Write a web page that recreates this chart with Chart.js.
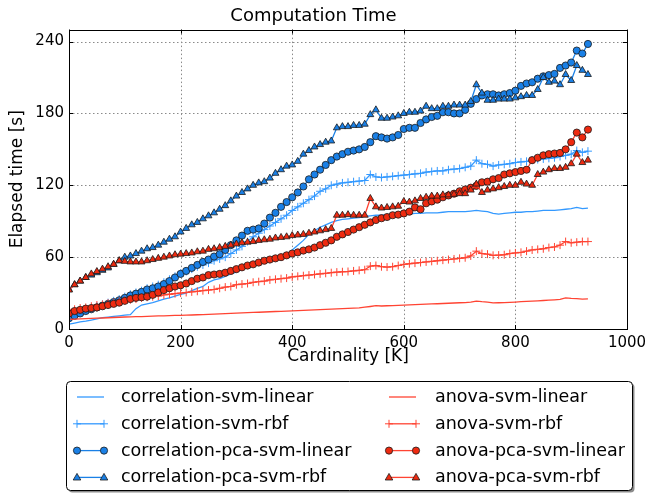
<!DOCTYPE html>
<html>
<head>
<meta charset="utf-8">
<script src="https://cdn.jsdelivr.net/npm/chart.js@4.4.1/dist/chart.umd.min.js"></script>
<style>
html, body { margin: 0; padding: 0; background: #fff; }
canvas { display: block; }
</style>
</head>
<body>
<canvas id="timeChart" width="646" height="493"></canvas>
<script>
// cardinality [K]
var cardinality = [
  0, 10, 20, 30, 40, 50, 60, 70, 80, 90,
  100, 110, 120, 130, 140, 150, 160, 170, 180, 190,
  200, 210, 220, 230, 240, 250, 260, 270, 280, 290,
  300, 310, 320, 330, 340, 350, 360, 370, 380, 390,
  400, 410, 420, 430, 440, 450, 460, 470, 480, 490,
  500, 510, 520, 530, 540, 550, 560, 570, 580, 590,
  600, 610, 620, 630, 640, 650, 660, 670, 680, 690,
  700, 710, 720, 730, 740, 750, 760, 770, 780, 790,
  800, 810, 820, 830, 840, 850, 860, 870, 880, 890,
  900, 910, 920, 930
];

// elapsed time [s]
var corrSvmLinear = [
  4, 5, 6, 6.5, 7.5, 8.5, 9.5, 10, 10.5, 11,
  11.5, 12, 17, 20, 21, 22, 23.5, 25, 26, 27.5,
  29, 30, 32, 34, 35.5, 39, 41, 42, 44, 46,
  47.5, 50, 52, 54, 55.5, 57.5, 58, 58, 59, 62,
  66, 70, 74, 79, 82, 85, 87, 89, 90.5, 91.5,
  92, 92.5, 93, 94, 94.5, 95, 95, 95.5, 95.5, 96,
  96, 96, 96.5, 96.5, 97, 97, 97, 97.5, 98, 98,
  98, 98, 98.5, 99, 98.5, 98, 96.5, 96, 96.5, 97,
  97.5, 97.5, 98, 98, 98.5, 99, 99, 99, 99.5, 100,
  100.5, 101.5, 100.5, 101
];
var corrSvmRbf = [
  10, 12, 14, 16, 17.5, 19, 20.5, 22, 23.5, 25,
  27, 29, 30.5, 32, 34, 35.5, 37, 39, 41.5, 44,
  46.5, 48, 50, 52, 53.5, 55, 57, 58.5, 60, 63,
  66, 69, 73, 77, 80, 83, 86, 89, 92, 95,
  99, 102, 105, 108, 111, 115, 117, 120, 121, 122,
  122.5, 123, 123.5, 124, 129, 127, 126.5, 127, 127.5, 128,
  128.5, 129, 129.5, 130, 131, 131.5, 132, 132, 133, 133.5,
  134, 135, 136, 141, 138, 137.5, 136, 137, 137.5, 138,
  139, 139.5, 140, 141, 141.5, 142, 142.5, 143, 144, 145,
  146, 149, 147.5, 148.5
];
var corrPcaSvmLinear = [
  9, 11, 13, 15, 16.5, 18, 19.5, 21, 22.5, 24,
  26, 28, 29.5, 31, 33, 34, 35.5, 37.5, 40, 43,
  46, 48.5, 51, 53.5, 56, 58, 60.5, 62.5, 66, 70,
  74, 78, 82, 83, 84, 88, 93, 97, 102, 106,
  110, 114, 119, 125, 129, 133, 137, 141, 144, 146,
  148, 149, 150, 152, 156, 161, 160, 159, 160, 162,
  167, 168, 168, 172, 175, 177, 178, 181, 181, 180,
  180, 183, 188, 192, 195, 196, 196, 195, 196, 197,
  199, 203, 205, 206, 209, 211, 212, 213, 218, 220,
  222.5, 232.5, 230, 238
];
var corrPcaSvmRbf = [
  33, 37, 40, 43, 45, 47, 49, 51, 54, 57,
  60, 61, 63, 65, 67, 68, 70, 72.5, 75, 77,
  81, 84, 87, 89, 92, 94.5, 97, 100, 103, 107,
  111, 114, 117, 120, 122, 123, 126, 130, 133, 136,
  137, 140, 146, 149, 152, 154, 156, 157, 168, 169,
  169, 170, 170, 171, 179, 183, 176, 176, 177, 178,
  180, 181, 181, 182, 186, 184, 184, 186, 186, 187,
  187, 187, 190, 204, 197, 191, 191, 192, 192, 192,
  193, 194, 195, 195, 200, 210, 206, 207, 204, 212.5,
  207.5, 220, 216, 212.5
];
var anovaSvmLinear = [
  8, 8.2, 8.4, 8.6, 8.8, 9, 9.2, 9.4, 9.6, 9.8,
  10, 10.1, 10.3, 10.4, 10.6, 10.7, 10.9, 11, 11.2, 11.3,
  11.4, 11.6, 11.7, 11.9, 12, 12.2, 12.4, 12.6, 12.8, 13,
  13.2, 13.4, 13.6, 13.8, 14, 14.2, 14.4, 14.6, 14.8, 15,
  15.2, 15.4, 15.6, 15.8, 16, 16.2, 16.4, 16.6, 16.8, 17,
  17.2, 17.4, 17.6, 18.2, 18.8, 19.5, 19.2, 19.4, 19.6, 19.8,
  20, 20.2, 20.4, 20.6, 20.8, 21, 21.1, 21.3, 21.5, 21.7,
  21.9, 22.1, 22.4, 23.3, 22.8, 22.5, 21.8, 21.9, 22.1, 22.3,
  22.5, 22.8, 23, 23.3, 23.5, 23.8, 24.1, 24.4, 24.8, 26,
  25.5, 25.3, 25, 25.2
];
var anovaSvmRbf = [
  15.5, 16.5, 17.5, 18, 19, 20, 20.5, 21.5, 22, 23,
  24, 24.5, 25, 26, 26.5, 27, 27.5, 28.5, 29, 29.5,
  30, 30.5, 31, 31.5, 32, 32.5, 33, 34, 35, 35.5,
  37, 37.5, 38, 39, 39.5, 40, 41, 41.5, 42, 42.5,
  43.5, 44, 44.5, 45, 45.5, 46, 46.5, 47, 47.5, 47.8,
  48, 48.5, 49, 49.5, 52.5, 53, 52, 51.7, 52, 53,
  54, 54.5, 55, 55.5, 56, 56.5, 57, 57.5, 58, 58.5,
  59, 59.5, 61, 65, 63, 62.5, 61.5, 61.7, 62, 63,
  63.5, 64, 65, 66, 66.5, 67, 68, 68.5, 70, 73,
  72, 72.5, 73, 73
];
var anovaPcaSvmLinear = [
  13, 15, 16, 17, 17.5, 18, 19, 20, 21, 22,
  23.5, 25, 26, 26.5, 27, 28.5, 30.5, 32.5, 34, 35.5,
  36.5, 38, 40, 42, 43, 45, 45.5, 46, 47, 48.5,
  50, 51.5, 53, 54, 55.5, 57, 58, 59, 60, 61.5,
  63, 64, 65.5, 66.5, 68, 70, 72, 74, 77, 79,
  81, 83, 85, 87, 89, 91, 92.5, 93.5, 95, 95.5,
  96.5, 98, 101.5, 100, 105, 106.5, 108, 110, 111.5, 113,
  115, 116.5, 118, 119.5, 122.5, 123, 125, 126, 129, 130,
  131, 132, 133, 141, 143, 145, 146, 146.5, 147, 150,
  156, 164, 160, 166.5
];
var anovaPcaSvmRbf = [
  32.5, 37, 40, 43, 46, 48, 50, 52, 54, 57,
  56.5, 56, 56, 56, 57, 58, 59, 60, 61, 62,
  62.5, 63, 63.5, 64.5, 65, 66.5, 67, 68, 69, 70,
  71, 72, 72.5, 73, 74, 74.5, 75, 76, 76.5, 77,
  78, 78.5, 79, 80, 81, 82, 83, 84, 95, 95,
  95.5, 95, 95, 95, 109, 102, 101, 101.5, 102, 102.5,
  106.5, 106, 107, 109, 110, 111, 111, 112, 112, 112.5,
  113, 113, 116, 121, 114, 116, 117, 118, 119, 120,
  120, 122.5, 121, 120, 129, 131, 133, 134, 134, 135,
  138, 146, 139, 141
];

var seriesNames = [
  'correlation-svm-linear', 'correlation-svm-rbf',
  'correlation-pca-svm-linear', 'correlation-pca-svm-rbf',
  'anova-svm-linear', 'anova-svm-rbf',
  'anova-pca-svm-linear', 'anova-pca-svm-rbf'
];
var xTicks = [0, 200, 400, 600, 800, 1000];
var yTicks = [0, 60, 120, 180, 240];

var lightBlue = '#3399ff';
var blue = '#1a80e6';
var red = '#ff4433';
var darkRed = '#ee2a10';
var edge = '#1a1a1a';
var font = 'DejaVu Sans';

function pts(vals) {
  return vals.map(function (v, i) { return { x: cardinality[i], y: v }; });
}

function makeSet(i, vals, color, marker, fill) {
  var ds = {
    label: seriesNames[i],
    data: pts(vals),
    borderColor: color,
    borderWidth: 1.3,
    pointRadius: 0,
    tension: 0,
    clip: 0,
    order: 10 - i,
    marker: marker
  };
  if (marker === 'cross') {
    ds.pointStyle = 'cross';
    ds.pointRadius = 4;
    ds.pointBorderColor = color;
    ds.pointBorderWidth = 1;
  } else if (marker === 'circle' || marker === 'triangle') {
    ds.pointStyle = marker;
    ds.pointRadius = marker === 'circle' ? 3.6 : 4;
    ds.pointBackgroundColor = fill;
    ds.pointBorderColor = edge;
    ds.pointBorderWidth = 0.8;
  }
  return ds;
}

var datasets = [
  makeSet(0, corrSvmLinear, lightBlue, 'none'),
  makeSet(1, corrSvmRbf, lightBlue, 'cross'),
  makeSet(2, corrPcaSvmLinear, blue, 'circle', blue),
  makeSet(3, corrPcaSvmRbf, blue, 'triangle', blue),
  makeSet(4, anovaSvmLinear, red, 'none'),
  makeSet(5, anovaSvmRbf, red, 'cross'),
  makeSet(6, anovaPcaSvmLinear, red, 'circle', darkRed),
  makeSet(7, anovaPcaSvmRbf, red, 'triangle', darkRed)
];

// dotted grid under the lines
var gridPlugin = {
  id: 'dotGrid',
  beforeDatasetsDraw: function (chart) {
    var a = chart.chartArea, c = chart.ctx;
    c.save();
    c.strokeStyle = '#8a8a8a';
    c.lineWidth = 1;
    c.setLineDash([1.5, 2.5]);
    c.beginPath();
    xTicks.forEach(function (v) {
      var x = Math.round(chart.scales.x.getPixelForValue(v)) + 0.5;
      c.moveTo(x, a.top); c.lineTo(x, a.bottom);
    });
    yTicks.forEach(function (v) {
      var y = Math.round(chart.scales.y.getPixelForValue(v)) + 0.5;
      c.moveTo(a.left, y); c.lineTo(a.right, y);
    });
    c.stroke();
    c.restore();
  }
};

// black frame with inward tick marks
var framePlugin = {
  id: 'frame',
  afterDatasetsDraw: function (chart) {
    var a = chart.chartArea, c = chart.ctx;
    c.save();
    c.strokeStyle = '#000';
    c.lineWidth = 1;
    c.strokeRect(Math.round(a.left) + 0.5, Math.round(a.top) + 0.5,
      Math.round(a.right - a.left), Math.round(a.bottom - a.top));
    c.beginPath();
    xTicks.forEach(function (v) {
      var x = Math.round(chart.scales.x.getPixelForValue(v)) + 0.5;
      c.moveTo(x, a.bottom); c.lineTo(x, a.bottom - 4);
      c.moveTo(x, a.top); c.lineTo(x, a.top + 4);
    });
    yTicks.forEach(function (v) {
      var y = Math.round(chart.scales.y.getPixelForValue(v)) + 0.5;
      c.moveTo(a.left, y); c.lineTo(a.left + 4, y);
      c.moveTo(a.right, y); c.lineTo(a.right - 4, y);
    });
    c.stroke();
    c.restore();
  }
};

function drawMarker(c, ds, x, y) {
  var m = ds.marker;
  if (m === 'cross') {
    c.strokeStyle = ds.pointBorderColor;
    c.lineWidth = 1;
    c.beginPath();
    c.moveTo(x - 4, y); c.lineTo(x + 4, y);
    c.moveTo(x, y - 4); c.lineTo(x, y + 4);
    c.stroke();
  } else if (m === 'circle') {
    c.fillStyle = ds.pointBackgroundColor;
    c.strokeStyle = edge;
    c.lineWidth = 0.8;
    c.beginPath();
    c.arc(x, y, 3.6, 0, Math.PI * 2);
    c.fill(); c.stroke();
  } else if (m === 'triangle') {
    c.fillStyle = ds.pointBackgroundColor;
    c.strokeStyle = edge;
    c.lineWidth = 0.8;
    c.beginPath();
    c.moveTo(x, y - 4); c.lineTo(x + 3.8, y + 2.6); c.lineTo(x - 3.8, y + 2.6);
    c.closePath();
    c.fill(); c.stroke();
  }
}

// two-column legend in a framed box under the plot
var legendPlugin = {
  id: 'boxLegend',
  afterDraw: function (chart) {
    var c = chart.ctx;
    var bx = 66, by = 381, bw = 566, bh = 109, r = 4;
    c.save();
    function rr(x, y) {
      c.beginPath();
      c.moveTo(x + r, y);
      c.arcTo(x + bw, y, x + bw, y + bh, r);
      c.arcTo(x + bw, y + bh, x, y + bh, r);
      c.arcTo(x, y + bh, x, y, r);
      c.arcTo(x, y, x + bw, y, r);
      c.closePath();
    }
    c.fillStyle = 'rgba(0,0,0,0.45)';
    rr(bx + 2.5, by + 2.5); c.fill();
    c.fillStyle = '#fff';
    rr(bx + 0.5, by + 0.5); c.fill();
    c.strokeStyle = '#000'; c.lineWidth = 1; c.stroke();

    c.font = '17.5px "' + font + '"';
    c.textBaseline = 'middle';
    chart.data.datasets.forEach(function (ds, i) {
      var col = i < 4 ? 0 : 1, row = i % 4;
      var x0 = col ? 389 : 77, x1 = x0 + 27;
      var y = 397 + row * 26.8;
      c.strokeStyle = ds.borderColor; c.lineWidth = 1.3;
      c.beginPath(); c.moveTo(x0, y); c.lineTo(x1, y); c.stroke();
      drawMarker(c, ds, x0, y);
      drawMarker(c, ds, x1, y);
      c.fillStyle = '#000';
      c.fillText(ds.label, col ? 435 : 121, y + 0.5);
    });
    c.restore();
  }
};

function plainLabel(v) { return String(v); }

new Chart(document.getElementById('timeChart').getContext('2d'), {
  type: 'line',
  data: { datasets: datasets },
  plugins: [gridPlugin, framePlugin, legendPlugin],
  options: {
    responsive: false,
    animation: false,
    devicePixelRatio: 1,
    layout: { padding: { left: 0, right: 19, top: 0, bottom: 124 } },
    plugins: {
      legend: { display: false },
      tooltip: { enabled: false },
      title: {
        display: true,
        text: 'Computation Time',
        color: '#000',
        font: { family: font, size: 18, weight: 'normal', lineHeight: 1.2 },
        padding: { top: 6, bottom: 2 }
      }
    },
    scales: {
      x: {
        type: 'linear',
        min: 0, max: 1000,
        afterBuildTicks: function (s) { s.ticks = xTicks.map(function (v) { return { value: v }; }); },
        afterFit: function (s) { s.height = 40; s.paddingLeft = 0; s.paddingRight = 0; },
        ticks: { color: '#000', font: { family: font, size: 15 }, padding: 5, maxRotation: 0, callback: plainLabel },
        grid: { display: false, drawTicks: false },
        border: { display: false },
        title: {
          display: true, text: 'Cardinality [K]', color: '#000',
          font: { family: font, size: 17 }, padding: { top: 0, bottom: 2.5 }
        }
      },
      y: {
        type: 'linear',
        min: 0, max: 250,
        afterBuildTicks: function (s) { s.ticks = yTicks.map(function (v) { return { value: v }; }); },
        afterFit: function (s) { s.width = 69; s.paddingTop = 0; s.paddingBottom = 0; },
        ticks: { color: '#000', font: { family: font, size: 15 }, padding: 5, callback: plainLabel },
        grid: { display: false, drawTicks: false },
        border: { display: false },
        title: {
          display: true, text: 'Elapsed time [s]', color: '#000',
          font: { family: font, size: 17 }, padding: { top: 7.8, bottom: 0 }
        }
      }
    }
  }
});
</script>
</body>
</html>
